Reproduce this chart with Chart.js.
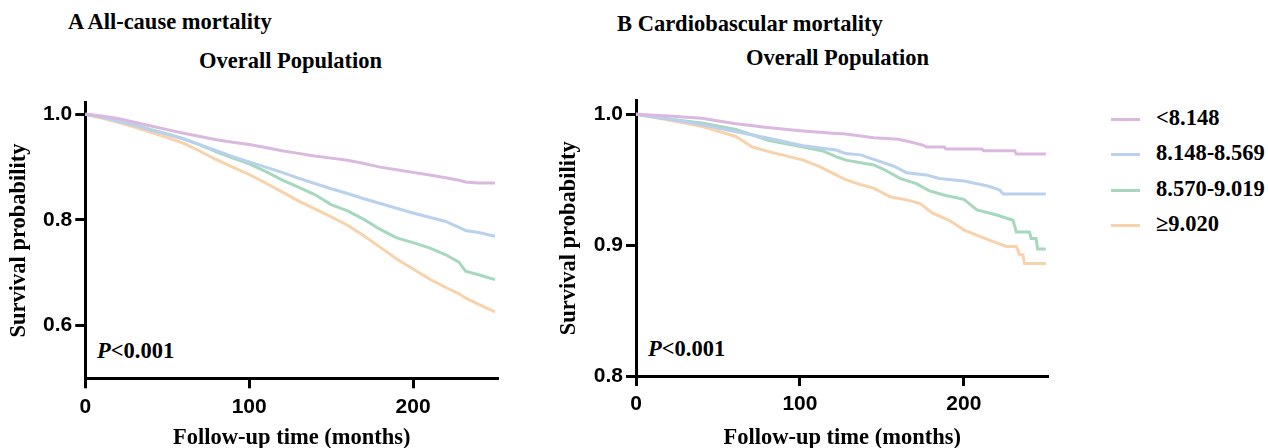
<!DOCTYPE html>
<html>
<head>
<meta charset="utf-8">
<script src="https://cdn.jsdelivr.net/npm/chart.js@4.4.1/dist/chart.umd.min.js"></script>
<style>
  html, body { margin: 0; padding: 0; background: #ffffff; width: 1268px; height: 448px; overflow: hidden; }
  .abs { position: absolute; white-space: nowrap; }
  .serif { font-family: "Liberation Serif", "Times New Roman", serif; font-weight: bold; font-size: 22.5px; line-height: 22.5px; color: #000; }
  canvas { position: absolute; top: 0; }
</style>
</head>
<body>
<div class="abs serif" style="left:68px; top:11px;">A All-cause mortality</div>
<div class="abs serif" style="left:199px; top:49.5px;">Overall Population</div>
<div class="abs serif" style="left:617px; top:13px;">B Cardiobascular mortality</div>
<div class="abs serif" style="left:746px; top:47px;">Overall Population</div>
<div class="abs serif" style="left:97px; top:339.5px;"><i>P</i>&lt;0.001</div>
<div class="abs serif" style="left:648px; top:338px;"><i>P</i>&lt;0.001</div>
<canvas id="chartA" width="520" height="448" style="left:0px;"></canvas>
<canvas id="chartB" width="520" height="448" style="left:550px;"></canvas>
<div id="legend"></div>
<script>
// ---------- DATA ----------
const groupLabels = ['<8.148', '8.148-8.569', '8.570-9.019', '\u22659.020'];
const groupColors = ['#dbb8e0', '#b9d1ef', '#a6d8bf', '#f8d2aa'];

const xTicks = [0, 100, 200];
const yTicksA = [0.6, 0.8, 1.0];
const yTicksB = [0.8, 0.9, 1.0];

// Panel A: all-cause mortality (months)
const timesA = [0, 10, 20, 30, 40, 50, 60, 70, 80, 90, 100, 110, 120, 130, 140, 150, 160, 170, 180, 190, 200, 210, 220, 228, 232, 240, 250];
const allCauseQ1 = [1.000, 0.997, 0.992, 0.985, 0.978, 0.971, 0.964, 0.958, 0.952, 0.947, 0.943, 0.937, 0.931, 0.926, 0.921, 0.917, 0.913, 0.907, 0.900, 0.895, 0.890, 0.885, 0.880, 0.875, 0.872, 0.870, 0.870];
const allCauseQ2 = [1.000, 0.995, 0.987, 0.979, 0.970, 0.962, 0.953, 0.942, 0.931, 0.920, 0.910, 0.900, 0.890, 0.879, 0.869, 0.859, 0.850, 0.840, 0.831, 0.822, 0.813, 0.805, 0.797, 0.786, 0.780, 0.776, 0.769];
const allCauseQ3 = [1.000, 0.995, 0.988, 0.980, 0.971, 0.963, 0.954, 0.942, 0.929, 0.917, 0.906, 0.892, 0.876, 0.862, 0.848, 0.829, 0.817, 0.801, 0.782, 0.766, 0.757, 0.747, 0.734, 0.720, 0.703, 0.696, 0.687];
const allCauseQ4 = [1.000, 0.993, 0.985, 0.976, 0.966, 0.956, 0.945, 0.930, 0.914, 0.900, 0.886, 0.870, 0.853, 0.836, 0.821, 0.806, 0.790, 0.770, 0.748, 0.726, 0.707, 0.688, 0.672, 0.660, 0.652, 0.640, 0.626];

// Panel B: cardiovascular mortality (curve path, months / survival)
const cvdQ1Times = [0, 20, 40, 60, 80, 100, 120, 128, 145, 160, 165, 175, 177, 188, 189, 211, 212, 231, 232, 250];
const cvdQ1Surv  = [1.000, 0.9987, 0.997, 0.993, 0.990, 0.9875, 0.9855, 0.985, 0.982, 0.981, 0.9796, 0.9765, 0.975, 0.975, 0.9735, 0.9735, 0.9722, 0.9722, 0.9697, 0.9697];
const cvdQ2Times = [0, 20, 41, 61, 81, 102, 122, 128, 137, 145, 157, 165, 177, 185, 200, 208, 215, 220, 222, 224, 250];
const cvdQ2Surv  = [1.000, 0.9964, 0.9918, 0.9867, 0.9817, 0.976, 0.9727, 0.970, 0.969, 0.9656, 0.9605, 0.9554, 0.9537, 0.951, 0.949, 0.947, 0.945, 0.943, 0.942, 0.939, 0.939];
const cvdQ3Times = [0, 20, 41, 61, 81, 102, 114, 122, 128, 145, 151, 161, 171, 179, 189, 200, 208, 220, 230, 232, 240, 241, 244, 245, 250];
const cvdQ3Surv  = [1.000, 0.9964, 0.9931, 0.9885, 0.980, 0.975, 0.972, 0.9676, 0.965, 0.9613, 0.958, 0.951, 0.947, 0.9415, 0.938, 0.935, 0.927, 0.923, 0.919, 0.910, 0.910, 0.905, 0.905, 0.897, 0.897];
const cvdQ4Times = [0, 20, 41, 61, 71, 81, 102, 112, 122, 128, 135, 145, 155, 165, 173, 181, 191, 200, 210, 218, 226, 232, 234, 236, 237, 250];
const cvdQ4Surv  = [1.000, 0.9956, 0.9905, 0.983, 0.975, 0.9715, 0.965, 0.960, 0.9537, 0.950, 0.947, 0.9435, 0.937, 0.9346, 0.932, 0.9244, 0.919, 0.9117, 0.9066, 0.9027, 0.899, 0.899, 0.8926, 0.8926, 0.886, 0.886];

// ---------- HELPERS ----------
const zip = (xs, ys) => xs.map((x, i) => ({ x: x, y: ys[i] }));
const TICK_FONT = { family: '"Liberation Sans", Arial, sans-serif', size: 21, weight: 'bold' };
const TITLE_FONT = { family: '"Liberation Serif", "Times New Roman", serif', size: 22.5, weight: 'bold', lineHeight: 1 };

function makeChart(id, seriesList, yMin, yMax, yTicks, xMax, layout) {
  return new Chart(document.getElementById(id), {
    type: 'line',
    data: {
      datasets: seriesList.map((pts, i) => ({
        label: groupLabels[i],
        data: pts,
        borderColor: groupColors[i],
        backgroundColor: groupColors[i],
        borderWidth: 3,
        pointRadius: 0,
        tension: 0,
        fill: false
      }))
    },
    options: {
      responsive: false,
      animation: false,
      events: [],
      layout: { padding: { top: layout.top, right: layout.right, left: 0, bottom: 0 } },
      plugins: { legend: { display: false }, tooltip: { enabled: false }, title: { display: false } },
      scales: {
        x: {
          type: 'linear',
          min: 0, max: xMax,
          afterFit: s => { s.height = layout.xAxisH; },
          afterBuildTicks: s => { s.ticks = xTicks.map(v => ({ value: v })); },
          border: { display: true, color: '#000', width: 3 },
          grid: { display: true, drawOnChartArea: false, drawTicks: true, tickLength: 10, tickWidth: 3, tickColor: '#000', color: '#000' },
          ticks: { color: '#000', font: TICK_FONT, padding: 6, maxRotation: 0, callback: v => String(v) },
          title: { display: true, text: 'Follow-up time (months)', color: '#000', font: TITLE_FONT, padding: { top: 0, bottom: -1 } }
        },
        y: {
          type: 'linear',
          min: yMin, max: yMax,
          afterFit: s => { s.width = layout.yAxisW; },
          afterBuildTicks: s => { s.ticks = yTicks.map(v => ({ value: v })); },
          border: { display: true, color: '#000', width: 3 },
          grid: { display: true, drawOnChartArea: false, drawTicks: true, tickLength: 10, tickWidth: 3, tickColor: '#000', color: '#000' },
          ticks: { color: '#000', font: TICK_FONT, padding: 3, callback: v => Number(v).toFixed(1) },
          title: { display: true, text: 'Survival probability', color: '#000', font: TITLE_FONT, padding: { top: 7.5, bottom: 0 } }
        }
      }
    }
  });
}

makeChart('chartA',
  [zip(timesA, allCauseQ1), zip(timesA, allCauseQ2), zip(timesA, allCauseQ3), zip(timesA, allCauseQ4)],
  0.5, 1.022, yTicksA, 252,
  { top: 102.7, right: 21.7, yAxisW: 85.3, xAxisH: 448 - 378.3 });

makeChart('chartB',
  [zip(cvdQ1Times, cvdQ1Surv), zip(cvdQ2Times, cvdQ2Surv), zip(cvdQ3Times, cvdQ3Surv), zip(cvdQ4Times, cvdQ4Surv)],
  0.8, 1.0104, yTicksB, 251.5,
  { top: 100.7, right: 21.7, yAxisW: 86, xAxisH: 448 - 376 });

// ---------- LEGEND ----------
const legend = document.getElementById('legend');
groupLabels.forEach((lab, i) => {
  const cy = 119.3 + i * 35.5;
  const line = document.createElement('div');
  line.className = 'abs';
  line.style.cssText = `left:1111px; top:${cy - 1.5}px; width:28.5px; height:3px; background:${groupColors[i]};`;
  legend.appendChild(line);
  const txt = document.createElement('div');
  txt.className = 'abs serif';
  txt.style.left = '1156px';
  txt.style.top = (cy + 6.5 - 18.85) + 'px';
  txt.textContent = lab;
  legend.appendChild(txt);
});
</script>
</body>
</html>
